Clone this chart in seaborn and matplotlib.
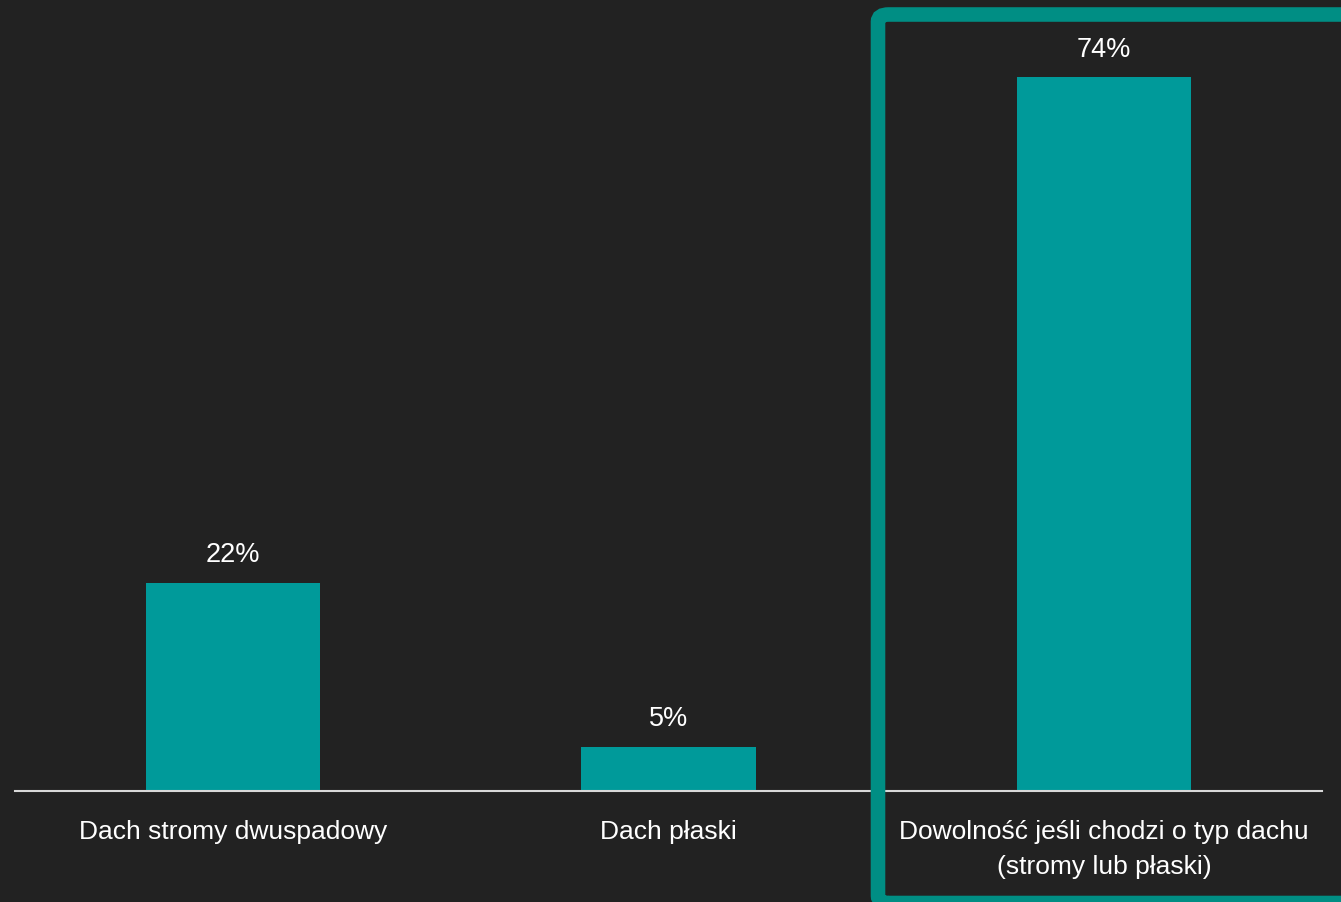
import matplotlib
matplotlib.use("Agg")
import matplotlib.pyplot as plt
import seaborn as sns
from matplotlib.patches import FancyBboxPatch

categories = ["Dach stromy dwuspadowy", "Dach płaski",
              "Dowolność jeśli chodzi o typ dachu\n(stromy lub płaski)"]
values = [21.6, 4.6, 74.0]

BG = "#222222"
BAR = "#009A9A"
BORDER = "#008E84"

sns.set_theme(style="white")
plt.rcParams['font.family'] = ['Liberation Sans', 'DejaVu Sans']

W, H = 1341, 902
fig = plt.figure(figsize=(W / 100, H / 100), dpi=100, facecolor=BG)
ax = fig.add_axes([15 / W, (H - 791) / H, (1322 - 15) / W, 791 / H])
ax.set_facecolor(BG)

sns.barplot(x=categories, y=values, color=BAR, saturation=1, width=0.4,
            linewidth=0, ax=ax)
ax.set_xlim(-0.5, 2.5)
ax.set_ylim(0, 82.0)

ax.bar_label(ax.containers[0], labels=[f"{v:.0f}%" for v in values],
             padding=10.3, color="white", fontsize=19.5)

for s in ["top", "right", "left"]:
    ax.spines[s].set_visible(False)
ax.spines["bottom"].set_color("#D9D9D9")
ax.spines["bottom"].set_linewidth(1.5)
ax.set_yticks([])
ax.set_ylabel("")
ax.set_xlabel("")
ax.tick_params(axis="x", length=0, pad=21, labelsize=19, labelcolor="white")
for t in ax.get_xticklabels():
    t.set_linespacing(1.55)

rect = FancyBboxPatch((878 / W, -1.0 / H), (1400 - 878) / W, (887.5 + 1.0) / H,
                      boxstyle="round,pad=0,rounding_size=0.008",
                      transform=fig.transFigure, fill=False,
                      edgecolor=BORDER, linewidth=10.5, clip_on=False)
fig.patches.append(rect)

fig.savefig("out.png", dpi=100, facecolor=BG)
